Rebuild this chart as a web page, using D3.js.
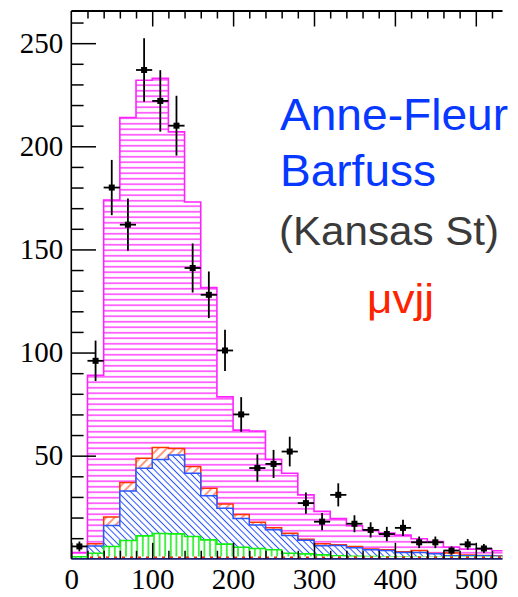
<!DOCTYPE html>
<html>
<head>
<meta charset="utf-8">
<script src="https://cdn.jsdelivr.net/npm/d3@7"></script>
<style>
  body { margin: 0; background: #fff; }
  svg { display: block; }
</style>
</head>
<body>
<script>
var svgW = 518;
var svgH = 597;

// bin low edges (width 20)
var binLo = [0, 20, 40, 60, 80, 100, 120, 140, 160, 180, 200, 220, 240, 260,
  280, 300, 320, 340, 360, 380, 400, 420, 440, 460, 480, 500, 520];
var binW = 20;

// stacked histograms (cumulative tops, as drawn)
var totalMag = [3, 89, 174, 214, 232, 233, 207, 173, 131.5, 78.5, 62.4, 62, 48.2, 41.5,
  31, 23, 19.5, 16, 14, 12.5, 11.5, 9.7, 8.4, 5.7, 4.7, 4.7, 3.9];
var stackRed = [1, 7.3, 20.3, 37, 48.7, 54, 53.5, 44.7, 34.2, 26.6, 21.5, 17.7, 15.1, 12.4,
  9.5, 7.3, 6.8, 6, 4.8, 4.4, 3.4, 4, 2.6, 2.8, 1.8, 1.6, 1.4];
var stackBlue = [1, 6.2, 16.2, 32.9, 43.9, 48.2, 50.3, 41.5, 30.6, 24.5, 19.5, 16.4, 14.1, 11.3,
  9, 6.3, 6.4, 5.4, 4.4, 4, 3.1, 3.1, 2.4, 1.5, 1.5, 1.5, 1.2];
var stackGreen = [1, 2.7, 6, 8.9, 11.1, 12.3, 12.1, 10.8, 9.2, 7.1, 5.6, 5, 4.4, 2.7,
  2.4, 1.9, 1.5, 1.2, 1.1, 1, 1, 0.9, 0.9, 0.8, 0.8, 0.8, 0.7];
var stackDots = [0, 1.1, 1.1, 1.1, 1.1, 1.1, 1.1, 1.1, 1.1, 1.1, 1.1, 1.1, 1.1, 1.1,
  1.1, 1.1, 1.1, 1.1, 1.1, 1.1, 1.1, 1.1, 1.1, 1.1, 1.1, 1.1, 1.1];

// data points
var dataX = [10, 30, 50, 70, 90, 110, 130, 150, 170, 190, 210, 230, 250, 270,
  290, 310, 330, 350, 370, 390, 410, 430, 450, 470, 490, 510];
var dataY = [6, 96, 180, 162, 237, 222, 210, 141, 128, 101, 70, 44, 46, 52,
  27, 18, 31, 17, 14, 12, 15, 8, 8, 4, 7, 5];
var dataErr = [2.4, 9.8, 13.4, 12.7, 15.4, 14.9, 14.5, 11.9, 11.3, 10.0, 8.4, 6.6, 6.8, 7.2,
  5.2, 4.2, 5.6, 4.1, 3.7, 3.5, 3.9, 2.8, 2.8, 2.0, 2.6, 2.2];

var xMajor = [0, 100, 200, 300, 400, 500];
var xMinor = [20, 40, 60, 80, 120, 140, 160, 180, 220, 240, 260, 280, 320, 340, 360, 380,
  420, 440, 460, 480, 520];
var yMajor = [50, 100, 150, 200, 250];
var yMinor = [10, 20, 30, 40, 60, 70, 80, 90, 110, 120, 130, 140, 160, 170, 180, 190,
  210, 220, 230, 240, 260];

// plot frame (note: "top" is taken by window.top)
var pLeft = 71.3, pRight = 502.5, pTop = 11, pBottom = 558.8;

var x = d3.scaleLinear().domain([0, 533]).range([pLeft, pRight]);
var y = d3.scaleLinear().domain([0, 265.6]).range([pBottom, pTop]);

var svg = d3.select("body")
  .append("svg")
  .attr("width", svgW)
  .attr("height", svgH);

var defs = svg.append("defs");

defs.append("clipPath")
  .attr("id", "plotClip")
  .append("rect")
  .attr("x", pLeft)
  .attr("y", pTop)
  .attr("width", pRight - pLeft)
  .attr("height", pBottom - pTop);

// hatch patterns
function linePattern(id, size, angle, color, sw) {
  var p = defs.append("pattern")
    .attr("id", id)
    .attr("patternUnits", "userSpaceOnUse")
    .attr("width", size)
    .attr("height", size)
    .attr("patternTransform", "rotate(" + angle + ")");
  p.append("rect").attr("width", size).attr("height", size).attr("fill", "#fff");
  p.append("line")
    .attr("x1", size / 2).attr("y1", 0)
    .attr("x2", size / 2).attr("y2", size)
    .attr("stroke", color)
    .attr("stroke-width", sw);
}
linePattern("hMag", 5.5, 90, "#ff55ff", 1.7);
linePattern("hRed", 6, 45, "#ff3300", 1);
linePattern("hBlue", 4.6, -45, "#2a55ff", 1);
linePattern("hGreen", 5.6, 0, "#11ee11", 1.5);

var dots = defs.append("pattern")
  .attr("id", "hDots")
  .attr("patternUnits", "userSpaceOnUse")
  .attr("width", 8)
  .attr("height", 8);
dots.append("rect").attr("width", 8).attr("height", 8).attr("fill", "#fff");
dots.append("rect").attr("x", 2).attr("y", 0).attr("width", 3).attr("height", 8).attr("fill", "#ff2200");

function stepPoints(vals) {
  var pts = binLo.map(function(lo, i) { return [lo, vals[i]]; });
  pts.push([binLo[binLo.length - 1] + binW, vals[vals.length - 1]]);
  return pts;
}

var area = d3.area()
  .curve(d3.curveStepAfter)
  .x(function(d) { return x(d[0]); })
  .y0(y(0))
  .y1(function(d) { return y(d[1]); });

var plot = svg.append("g").attr("clip-path", "url(#plotClip)");

var layers = [
  { vals: totalMag, fill: "url(#hMag)", stroke: "#ff22ff", sw: 1.6 },
  { vals: stackRed, fill: "url(#hRed)", stroke: "#ff3300", sw: 1.5 },
  { vals: stackBlue, fill: "url(#hBlue)", stroke: "#2a55ff", sw: 1.5 },
  { vals: stackGreen, fill: "url(#hGreen)", stroke: "#11ee11", sw: 1.6 }
];

layers.forEach(function(l) {
  plot.append("path")
    .datum(stepPoints(l.vals))
    .attr("d", area)
    .attr("fill", l.fill)
    .attr("stroke", l.stroke)
    .attr("stroke-width", l.sw);
});

// little red dotted component at the bottom
plot.append("path")
  .datum(stepPoints(stackDots))
  .attr("d", area)
  .attr("fill", "url(#hDots)")
  .attr("stroke", "none");

// axes frame
svg.append("line")
  .attr("x1", pLeft).attr("x2", pLeft)
  .attr("y1", pTop).attr("y2", pBottom)
  .attr("stroke", "#000").attr("stroke-width", 1.6);
svg.append("line")
  .attr("x1", pLeft).attr("x2", pRight)
  .attr("y1", pTop).attr("y2", pTop)
  .attr("stroke", "#000").attr("stroke-width", 2);
svg.append("line")
  .attr("x1", pLeft).attr("x2", pRight)
  .attr("y1", pBottom).attr("y2", pBottom)
  .attr("stroke", "#1c1c70").attr("stroke-width", 1.8);

// y axis ticks (inward) + labels
svg.append("g")
  .attr("transform", "translate(" + pLeft + ",0)")
  .call(d3.axisLeft(y).tickValues(yMajor).tickSize(-24.7).tickPadding(8));
svg.append("g")
  .attr("transform", "translate(" + pLeft + ",0)")
  .call(d3.axisLeft(y).tickValues(yMinor).tickSize(-12.3).tickFormat(""));

// x axis: bottom ticks point up, top ticks point down
svg.append("g")
  .attr("transform", "translate(0," + pBottom + ")")
  .call(d3.axisBottom(x).tickValues(xMajor).tickSize(-16).tickPadding(10));
svg.append("g")
  .attr("transform", "translate(0," + pBottom + ")")
  .call(d3.axisBottom(x).tickValues(xMinor).tickSize(-8).tickFormat(""));
svg.append("g")
  .attr("transform", "translate(0," + pTop + ")")
  .call(d3.axisTop(x).tickValues(xMajor.slice(1)).tickSize(-15.5).tickFormat(""));
svg.append("g")
  .attr("transform", "translate(0," + pTop + ")")
  .call(d3.axisTop(x).tickValues(xMinor).tickSize(-7.5).tickFormat(""));

svg.selectAll(".domain").remove();
svg.selectAll(".tick line")
  .attr("stroke", "#000")
  .attr("stroke-width", 1.5);
svg.selectAll(".tick text")
  .attr("font-family", "'Liberation Serif', 'DejaVu Serif', serif")
  .attr("font-size", "29px")
  .attr("fill", "#000");

// data points with errors
var pts = svg.append("g");
pts.selectAll("line.ey")
  .data(dataY)
  .enter()
  .append("line")
  .attr("class", "ey")
  .attr("x1", function(d, i) { return x(dataX[i]); })
  .attr("x2", function(d, i) { return x(dataX[i]); })
  .attr("y1", function(d, i) { return y(d - dataErr[i]); })
  .attr("y2", function(d, i) { return y(d + dataErr[i]); })
  .attr("stroke", "#000")
  .attr("stroke-width", 1.8);
pts.selectAll("line.ex")
  .data(dataY)
  .enter()
  .append("line")
  .attr("class", "ex")
  .attr("x1", function(d, i) { return x(dataX[i] - binW / 2); })
  .attr("x2", function(d, i) { return x(dataX[i] + binW / 2); })
  .attr("y1", function(d) { return y(d); })
  .attr("y2", function(d) { return y(d); })
  .attr("stroke", "#000")
  .attr("stroke-width", 1.8);
pts.selectAll("rect")
  .data(dataY)
  .enter()
  .append("rect")
  .attr("x", function(d, i) { return x(dataX[i]) - 3; })
  .attr("y", function(d) { return y(d) - 3; })
  .attr("width", 6)
  .attr("height", 6)
  .attr("fill", "#000");

// slide text on top of the plot
var labels = [
  { t: "Anne-Fleur", x: 280, y: 130, size: 45, len: 228, fill: "#0638ff" },
  { t: "Barfuss", x: 280, y: 186, size: 45, len: 156, fill: "#0638ff" },
  { t: "(Kansas St)", x: 279, y: 245, size: 40, len: 220, fill: "#3a3a3a" },
  { t: "\u03bcvjj", x: 367, y: 313, size: 40, len: 67, fill: "#ff2200" }
];
svg.selectAll("text.note")
  .data(labels)
  .enter()
  .append("text")
  .attr("class", "note")
  .attr("x", function(d) { return d.x; })
  .attr("y", function(d) { return d.y; })
  .attr("font-family", "'Liberation Sans', Arial, sans-serif")
  .attr("font-size", function(d) { return d.size + "px"; })
  .attr("textLength", function(d) { return d.len; })
  .attr("lengthAdjust", "spacingAndGlyphs")
  .attr("fill", function(d) { return d.fill; })
  .text(function(d) { return d.t; });
</script>
</body>
</html>
